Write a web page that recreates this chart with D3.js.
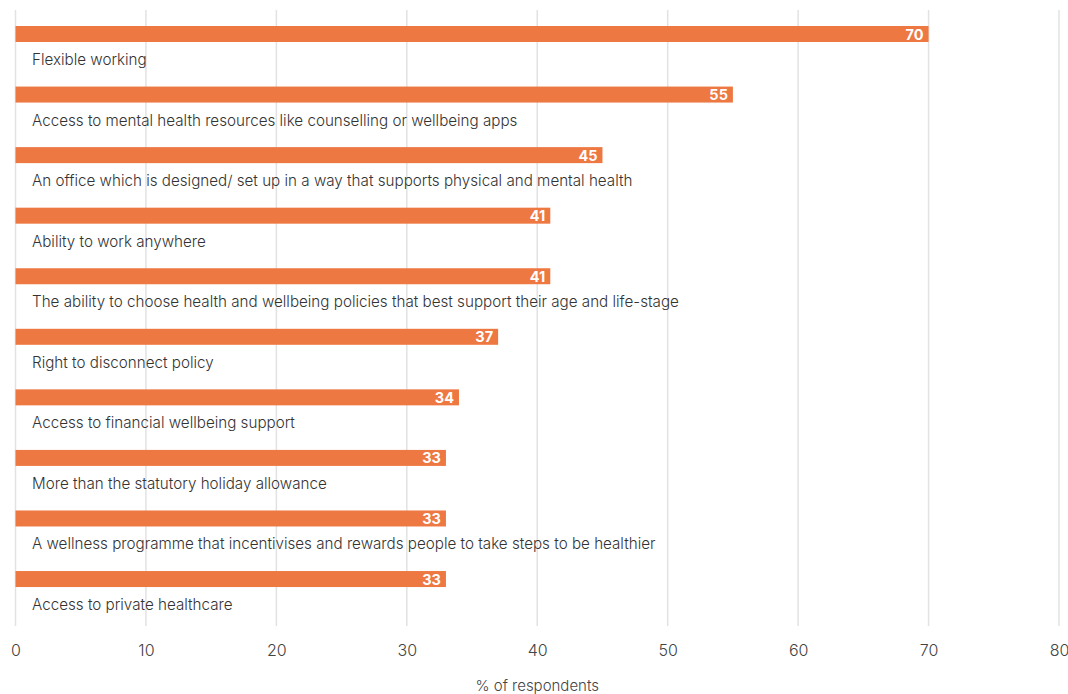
<!DOCTYPE html>
<html>
<head>
<meta charset="utf-8">
<script src="https://cdn.jsdelivr.net/npm/d3@7"></script>
<style>
  html, body { margin: 0; padding: 0; background: #fff; }
  svg { display: block; }
</style>
</head>
<body>
<svg id="chart" width="1068" height="694"></svg>
<script>
// Workplace benefits, % of respondents
const categories = [
  "Flexible working",
  "Access to mental health resources like counselling or wellbeing apps",
  "An office which is designed/ set up in a way that supports physical and mental health",
  "Ability to work anywhere",
  "The ability to choose health and wellbeing policies that best support their age and life-stage",
  "Right to disconnect policy",
  "Access to financial wellbeing support",
  "More than the statutory holiday allowance",
  "A wellness programme that incentivises and rewards people to take steps to be healthier",
  "Access to private healthcare"
];
const values = [70, 55, 45, 41, 41, 37, 34, 33, 33, 33];
const xTicks = [0, 10, 20, 30, 40, 50, 60, 70, 80];
const axisTitle = "% of respondents";

const svg = d3.select("#chart");
const font = "Inter, 'Open Sans', sans-serif";

const x = d3.scaleLinear().domain([0, 80]).range([15.5, 1059]);
const y = d3.scaleBand().domain(categories).range([20, 20 + 60.56 * categories.length]).padding(0);

const gridTop = 10, gridBottom = 626;

// vertical grid lines
svg.append("g")
  .selectAll("line")
  .data(xTicks)
  .join("line")
  .attr("x1", d => x(d)).attr("x2", d => x(d))
  .attr("y1", gridTop).attr("y2", gridBottom)
  .attr("stroke", "#e2e2e2")
  .attr("stroke-width", 1.5);

// x axis tick labels
const axis = d3.axisBottom(x).tickValues(xTicks).tickSize(0).tickPadding(0);
const gAxis = svg.append("g").attr("transform", `translate(0, ${gridBottom})`).call(axis);
gAxis.select(".domain").remove();
gAxis.selectAll("text")
  .attr("y", 30)
  .attr("dy", 0)
  .attr("fill", "#444")
  .style("font-family", font)
  .style("font-weight", "300")
  .style("font-size", "16px");

// axis title
svg.append("text")
  .attr("x", (x(0) + x(80)) / 2)
  .attr("y", 691)
  .attr("text-anchor", "middle")
  .attr("fill", "#444")
  .style("font-family", font)
  .style("font-weight", "300")
  .style("font-size", "15px")
  .text(axisTitle);

const rows = svg.append("g")
  .selectAll("g")
  .data(categories.map((c, i) => ({ c, v: values[i] })))
  .join("g")
  .attr("transform", d => `translate(0, ${y(d.c)})`);

// bars
rows.append("rect")
  .attr("x", x(0))
  .attr("y", 6)
  .attr("width", d => x(d.v) - x(0))
  .attr("height", 16)
  .attr("fill", "#EE7842");

// value labels inside bar ends
rows.append("text")
  .attr("x", d => x(d.v) - 5)
  .attr("y", 19.5)
  .attr("text-anchor", "end")
  .attr("fill", "#fff")
  .style("font-family", font)
  .style("font-weight", "700")
  .style("font-size", "14.5px")
  .text(d => d.v);

// category labels under each bar
rows.append("text")
  .attr("x", 32)
  .attr("y", 45)
  .attr("fill", "#333")
  .style("font-family", font)
  .style("font-weight", "300")
  .style("font-size", "15.2px")
  .text(d => d.c);
</script>
</body>
</html>
